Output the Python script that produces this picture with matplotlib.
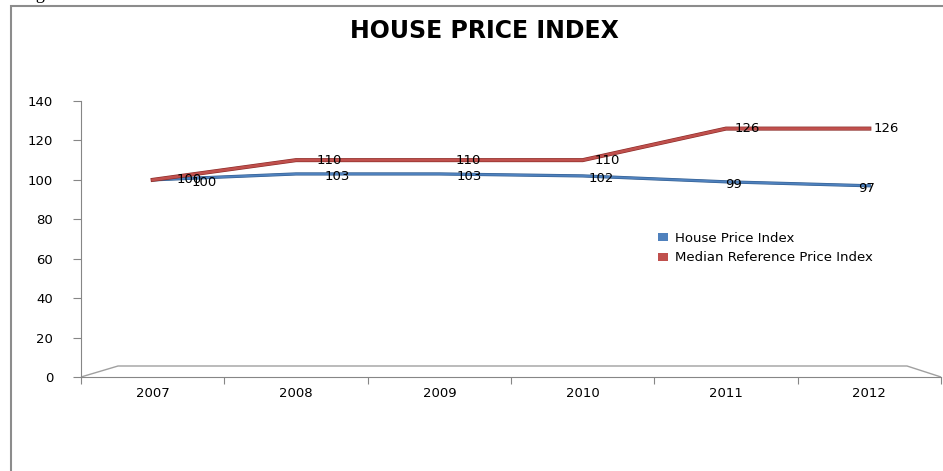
import numpy as np
import matplotlib.pyplot as plt
import matplotlib.patheffects as pe
from matplotlib.patches import Patch, Rectangle, Polygon

# data
years = ['2007', '2008', '2009', '2010', '2011', '2012']
house_price = [100, 103, 103, 102, 99, 97]
median_ref = [100, 110, 110, 110, 126, 126]

W, H = 943, 471
fig = plt.figure(figsize=(W / 100, H / 100), dpi=100)
fig.patch.set_facecolor('white')

# outer frame (cut off by the image edges on the right and bottom)
fig.patches.append(Rectangle((11 / W, -0.2), 1.5, 1.2 - 6 / H, transform=fig.transFigure,
                             fill=False, edgecolor='#8c8c8c', linewidth=1.5))
fig.text(22 / W, 1 + 1 / H, 'Figure', fontsize=13, family='Liberation Serif',
         va='baseline', ha='left')

ax = fig.add_axes([81 / W, (H - 377) / H, (941 - 81) / W, (377 - 101) / H])
x = np.arange(len(years)) + 0.5

ax.plot(x, house_price, color='#4F81BD', lw=1.5, solid_joinstyle='miter',
        path_effects=[pe.Stroke(linewidth=2.3, foreground='#2E5A8C'), pe.Normal()], zorder=3)
ax.plot(x, median_ref, color='#C0504D', lw=2.0, solid_joinstyle='miter',
        path_effects=[pe.Stroke(linewidth=2.9, foreground='#8A2A27'), pe.Normal()], zorder=3)

# data labels (offsets mimic the 3D perspective of the original)
for i, v in enumerate(median_ref):
    ax.annotate(str(v), (x[i], v), xytext=(37 - 4 * i, 0), textcoords='offset pixels',
                ha='center', va='center', fontsize=9.5, zorder=4)
for i, v in enumerate(house_price):
    ax.annotate(str(v), (x[i], v), xytext=(52 - 11 * i, -3), textcoords='offset pixels',
                ha='center', va='center', fontsize=9.5, zorder=4)

ax.set_xlim(0, len(years))
ax.set_ylim(0, 140)
ax.set_yticks(np.arange(0, 141, 20))
ax.set_xticks(np.arange(0, len(years) + 1))
ax.set_xticklabels([])
ax.set_xticks(x, minor=True)
ax.set_xticklabels(years, minor=True)
ax.tick_params(axis='x', which='major', length=5, color='#868686')
ax.tick_params(axis='x', which='minor', length=0, pad=7, labelsize=9.5)
ax.tick_params(axis='y', length=6, color='#868686', labelsize=9.5, pad=14)

for s in ['top', 'right']:
    ax.spines[s].set_visible(False)
for s in ['left', 'bottom']:
    ax.spines[s].set_color('#868686')

# 3D floor outline
floor = Polygon([(0, 0), (37 / 860, 11 / 276), (1 - 34 / 860, 11 / 276), (1, 0)],
                closed=False, transform=ax.transAxes, fill=False,
                edgecolor='#a0a0a0', lw=1, clip_on=False)
ax.add_patch(floor)

fig.text(484 / W, 1 - 31 / H, 'HOUSE PRICE INDEX', fontsize=17, fontweight='bold',
         ha='center', va='center')

handles = [Patch(facecolor='#4F81BD'), Patch(facecolor='#C0504D')]
fig.legend(handles, ['House Price Index', 'Median Reference Price Index'],
           loc='upper left', bbox_to_anchor=(646 / W, 1 - 220 / H), frameon=False,
           fontsize=9.5, handlelength=0.8, handleheight=0.6, handletextpad=0.5,
           labelspacing=0.5)

fig.savefig('out.png', dpi=100)
